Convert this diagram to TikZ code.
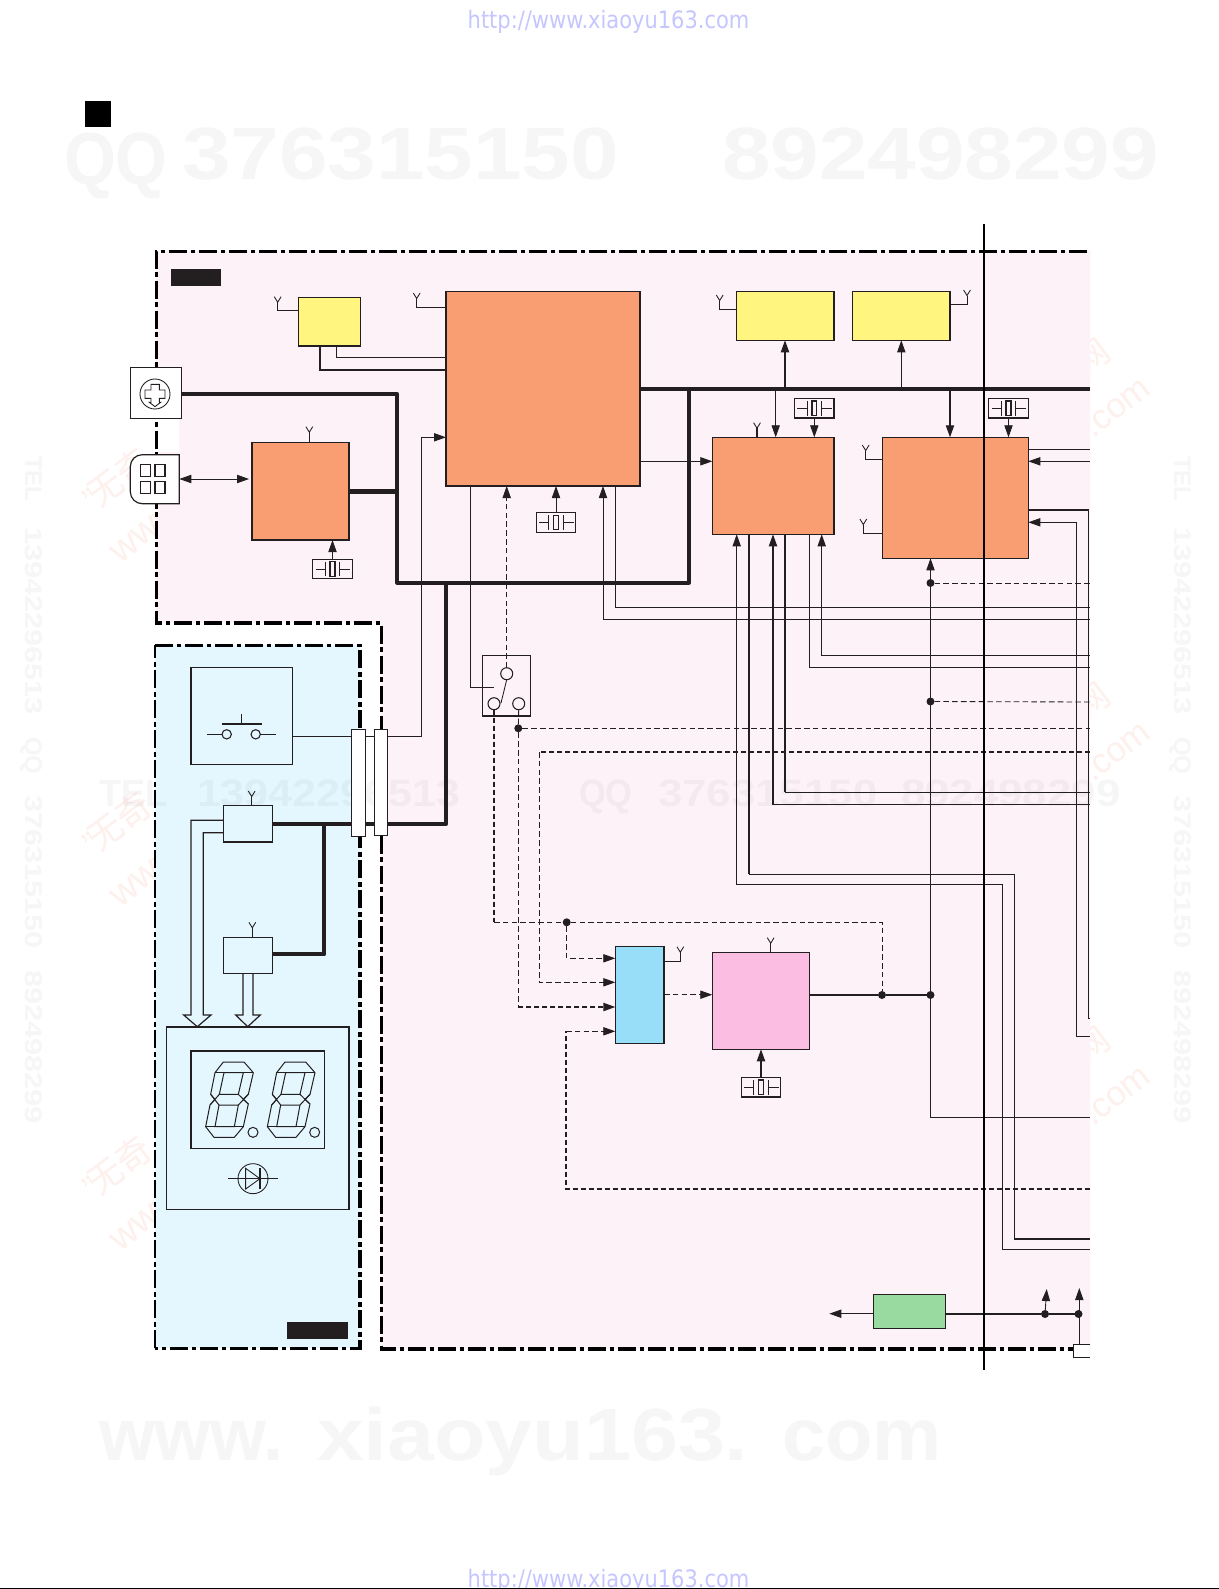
\documentclass[tikz,border=0pt]{standalone}
\usepackage{fontspec}
\usetikzlibrary{arrows.meta,calc}
\setmainfont{Liberation Sans}
\newfontfamily\dvf{DejaVu Sans}
\newfontfamily\cjkf{Noto Sans CJK SC}
\definecolor{ink}{HTML}{231F20}
\definecolor{pinkbg}{HTML}{FDF2F8}
\definecolor{bluebg}{HTML}{E4F6FE}
\definecolor{orangebox}{HTML}{F99D72}
\definecolor{yellowbox}{HTML}{FFF57F}
\definecolor{cyanbox}{HTML}{99DEF9}
\definecolor{rosebox}{HTML}{FBBDE1}
\definecolor{greenbox}{HTML}{99DAA0}
\definecolor{stamp}{HTML}{FDF0ED}
\definecolor{urlc}{HTML}{C6C6FF}
\tikzset{
  x=0.75pt,y=-0.75pt,
  >={Triangle[length=9pt,width=6.2pt]},
  boxn/.style={draw=ink,line width=0.95pt,inner sep=0pt,outer sep=0pt,rectangle},
  wire/.style={draw=ink,line width=0.65pt},
  wirem/.style={draw=ink,line width=1pt},
  bus/.style={draw=ink,line width=2.9pt,line join=round},
  dw/.style={draw=ink,line width=0.65pt,dash pattern=on 4.2pt off 2.4pt},
  dwt/.style={draw=ink,line width=1.2pt,dash pattern=on 3.6pt off 2.4pt},
  frameline/.style={draw=black,line width=2.35pt,dash pattern=on 13.5pt off 2.7pt on 3.6pt off 2.7pt},
  dotn/.style={circle,fill=ink,inner sep=0pt,outer sep=0pt,minimum size=6pt},
  ringn/.style={circle,draw=ink,fill=pinkbg,line width=0.8pt,inner sep=0pt,outer sep=0pt,minimum size=9pt},
  wmk/.style={anchor=base west,inner sep=0pt,outer sep=0pt,text=black!3.5},
  wmm/.style={anchor=base west,inner sep=0pt,outer sep=0pt,text=black,text opacity=0.035},
  bigf/.style={font=\fontsize{55.5}{60}\selectfont\bfseries},
  midf/.style={font=\fontsize{28.6}{32}\selectfont\bfseries},
  sidef/.style={font=\fontsize{18}{20}\selectfont\bfseries},
  stampt/.style={anchor=base west,inner sep=0pt,outer sep=0pt,text=stamp,rotate=37},
  urlt/.style={anchor=base,inner sep=0pt,outer sep=0pt,text=urlc,font=\fontsize{18}{20}\selectfont\dvf,xscale=0.874},
}
\newcommand{\bx}[6]{%
  \pgfmathsetmacro\bxw{((#4)-(#2))*0.75}\pgfmathsetmacro\bxh{((#5)-(#3))*0.75}%
  \node[boxn,#6,minimum width=\bxw pt,minimum height=\bxh pt] (#1) at ({((#2)+(#4))/2},{((#3)+(#5))/2}) {};}
% forked aerial: name, x, top y
\newcommand{\ya}[3]{%
  \coordinate (#1) at (#2,#3+5.5);
  \draw[wire] (#2-3.4,#3) -- (#1) -- (#2+3.4,#3);}
% crystal: name, centre
\newcommand{\xtal}[3]{%
  \bx{#1}{#2-19.8}{#3-9.8}{#2+19.8}{#3+9.8}{fill=pinkbg,line width=1pt}
  \begin{scope}[shift={(#2,#3)}]
    \draw[wire] (-17,0) -- (-7.3,0) (-7.3,-7.3) -- (-7.3,7.3) (7,-7.3) -- (7,7.3) (7,0) -- (17.5,0);
    \draw[wirem] (-2.4,-7.3) rectangle (2.4,7.3);
  \end{scope}}
% seven segment digit in zoom pixels
\newcommand{\sevenseg}{%
  \draw[wire,line width=0.75pt,line join=round] (250,186) -- (312,186) -- (340,218) -- (325,283) -- (310,298) -- (325,312) -- (310,380) -- (283,412) -- (222,412) -- (197,380) -- (210,315) -- (225,298) -- (212,283) -- (225,218) -- cycle;
  \draw[wire,line width=0.75pt] (252,218) -- (310,218) -- (295,283) -- (238,283) -- cycle;
  \draw[wire,line width=0.75pt] (237,315) -- (295,315) -- (283,380) -- (225,380) -- cycle;
  \draw[wire,line width=0.75pt] (225,218) -- (252,218) (340,218) -- (310,218) (197,380) -- (225,380) (310,380) -- (283,380);
  \draw[wire,line width=0.75pt] (212,283) -- (237,315) (238,283) -- (210,315) (295,283) -- (325,312) (325,283) -- (295,315);
  \draw[wire,line width=0.75pt] (339,397) circle[radius=15];
}
\begin{document}
\begin{tikzpicture}
\useasboundingbox (0,0) rectangle (1219,1589);
\fill[white] (0,0) rectangle (1219,1589);

% ---- faint stamps under the coloured areas
\foreach \dy in {0,344,688}{
  \node[stampt,font=\fontsize{26}{28}\selectfont] (stampq\dy) at (94,512+\dy) {"};
  \node[stampt,font=\fontsize{26}{28}\selectfont\cjkf] (stampa\dy) at (99.6,508+\dy) {无奇};
  \node[stampt,font=\fontsize{28}{30}\selectfont] (stampb\dy) at (120,564+\dy) {www};
  \node[stampt,font=\fontsize{26}{28}\selectfont\cjkf] (stampc\dy) at (1085,377+\dy) {网};
  \node[stampt,font=\fontsize{26}{28}\selectfont] (stampd\dy) at (1093,438+\dy) {.com};
}

% ---- region backgrounds
\fill[pinkbg] (156,251) -- (1090,251) -- (1090,1349) -- (381,1349) -- (381,623) -- (156,623) -- cycle;
\fill[white] (156,419) rectangle (179,452);
\fill[bluebg] (155,645.3) rectangle (360,1348.3);

% ---- faint numbers
\node[wmk,bigf,xscale=0.9] (wq) at (64,184) {QQ};
\node[wmk,bigf,xscale=1.18] (wa) at (182,179) {376315150};
\node[wmk,bigf,xscale=1.18] (wb) at (722,179) {892498299};
\node[wmk,bigf,xscale=0.97] (wc) at (99,1460) {www.};
\node[wmk,bigf,xscale=1.14] (wca) at (317,1460) {xiaoyu163.};
\node[wmk,bigf,xscale=1.05] (wcb) at (782,1460) {com};
\node[wmm,midf,xscale=0.95] (wd) at (99,806) {TEL};
\node[wmm,midf,xscale=1.13] (we) at (197,806) {13942296513};
\node[wmm,midf,xscale=0.9] (wf) at (579,806) {QQ};
\node[wmm,midf,xscale=1.15] (wg) at (658,806) {376315150};
\node[wmm,midf,xscale=1.15] (wh) at (901,806) {892498299};
\foreach \sx in {25,1174}{
  \node[wmk,sidef,rotate=-90,xscale=1.0] (sa\sx) at (\sx,456) {TEL};
  \node[wmk,sidef,rotate=-90,xscale=1.28] (sb\sx) at (\sx,527) {13942296513};
  \node[wmk,sidef,rotate=-90,xscale=1.0] (sc\sx) at (\sx,737) {QQ};
  \node[wmk,sidef,rotate=-90,xscale=1.28] (sd\sx) at (\sx,795) {376315150};
  \node[wmk,sidef,rotate=-90,xscale=1.28] (se\sx) at (\sx,970) {892498299};
}
\node[urlt] (urla) at (608.5,28) {http://www.xiaoyu163.com};
\node[urlt] (urlb) at (608.5,1587) {http://www.xiaoyu163.com};
\fill[black] (0,1587.5) rectangle (1219,1589);
\fill[black] (85,101) rectangle (111,127);

% ---- dash-dot frames
\draw[frameline] (1087,251.3) -- (156.3,251.3) -- (156.3,623) -- (381.3,623) -- (381.3,1349) -- (1087,1349);
\draw[frameline] (155,645.3) -- (360,645.3) -- (360,1348.3) -- (155,1348.3);
\draw[frameline,line width=1.5pt] (155,1348.3) -- (155,645.3);

% ---- black tags
\fill[ink] (171,269) rectangle (221,286);
\fill[ink] (287,1322) rectangle (348,1338.7);

% ---- main blocks
\bx{main}{446}{291.7}{640}{486}{fill=orangebox}
\bx{yellowa}{298.7}{297.3}{360.3}{346}{fill=yellowbox}
\bx{yellowb}{736.3}{291.7}{834}{340.3}{fill=yellowbox}
\bx{yellowc}{852.7}{291.7}{950}{340.3}{fill=yellowbox}
\bx{orangeb}{252}{442.7}{349}{540}{fill=orangebox}
\bx{orangec}{712.3}{437.3}{834}{534.3}{fill=orangebox}
\bx{oranged}{882.7}{437.3}{1028.3}{558.3}{fill=orangebox}
\bx{bluebox}{615.3}{946.3}{664}{1043.3}{fill=cyanbox}
\bx{rosen}{712.3}{952.3}{809.3}{1049.3}{fill=rosebox}
\bx{greenn}{873.7}{1294.3}{945.7}{1328.7}{fill=greenbox}
\bx{tabr}{1073.3}{1344}{1090}{1357.3}{fill=white,draw=none}
\draw[wire] (tabr.north east) -- (tabr.north west) -- (tabr.south west) -- (tabr.south east);
\bx{swbox}{482.3}{655.7}{530.7}{716}{line width=0.8pt}
\bx{keybox}{191}{667.7}{292.3}{764.7}{line width=0.8pt}
\bx{drva}{223.3}{805.7}{272.3}{842}{}
\bx{drvb}{223.3}{937.7}{272.3}{973.3}{line width=0.8pt}
\bx{dispbox}{166.7}{1027}{349}{1209.3}{line width=0.8pt}
\bx{dispin}{191}{1051}{324.7}{1148.3}{line width=0.8pt}

\xtal{xa}{332.5}{569}
\xtal{xb}{556}{522.5}
\xtal{xc}{814.3}{408.3}
\xtal{xd}{1008.5}{408.3}
\xtal{xe}{761}{1087.3}

% ---- free ends on the right edge
\foreach \nm/\yy in {449/449.3,461/461.3,583/583,607/607,619/619,655/655.3,667/667,702/702,728/728.3,752/752,792/792,805/804.7,1019/1018.6,1036/1036.4,1117/1117,1189/1189,1239/1239,1249/1249.3}{
  \coordinate (R\nm) at (1090,\yy);
}
% ---- junction dots
\node[dotn] (jc) at (930.5,583) {};
\node[dotn] (jd) at (930.5,701.5) {};
\node[dotn] (je) at (930.5,995) {};
\node[dotn] (jf) at (882,995) {};
\node[dotn] (jg) at (566.7,922.3) {};
\node[dotn] (jh) at (518.3,728.3) {};
\node[dotn] (ji) at (1045,1314) {};
\node[dotn] (jj) at (1078.5,1314) {};

% ---- aerials
\ya{aa}{277.7}{296.7}
\draw[wirem] (aa) |- (yellowa.west |- 0,310.7);
\ya{ab}{416.7}{293}
\draw[wire] (ab) |- (main.west |- 0,307.3);
\ya{ac}{719.7}{295}
\draw[wire] (ac) |- (yellowb.west |- 0,309.3);
\ya{ad}{967}{290}
\draw[wire] (ad) |- (yellowc.east |- 0,304.3);
\ya{ae}{309.3}{426.7}
\draw[wire] (ae) -- (ae |- orangeb.north);
\ya{af}{757}{422.7}
\draw[wirem] (af) -- (af |- orangec.north);
\ya{ag}{865.7}{445}
\draw[wire] (ag) |- (oranged.west |- 0,459.3);
\ya{ah}{863.3}{519}
\draw[wirem] (ah) |- (oranged.west |- 0,533.7);
\ya{ai}{680.3}{946.7}
\draw[wire] (ai) |- (bluebox.east |- 0,961.3);
\ya{aj}{770.7}{937.7}
\draw[wire] (aj) -- (aj |- rosen.north);
\ya{ak}{251.7}{791}
\draw[wirem] (ak) -- (ak |- drva.north);
\ya{al}{252.3}{922.3}
\draw[wire] (al) -- (al |- drvb.north);

% ---- connector bars
\bx{bara}{351.7}{729.3}{365.3}{836.3}{fill=white,line width=0.8pt}
\bx{barb}{374.3}{729.3}{387.7}{835.3}{fill=white,line width=0.8pt}

% ---- thick busses
\node[boxn,fill=white,minimum width=38.25pt,minimum height=38.25pt,line width=0.9pt] (iconp) at (155.8,393.2) {};
\node[inner sep=0pt,outer sep=0pt,minimum width=36.75pt,minimum height=36.75pt] (iconk) at (154.8,479.2) {};
\draw[ink,fill=white,line width=0.9pt] (179.3,454.7) [rounded corners=9pt] -- (130.3,454.7) -- (130.3,503.7) [sharp corners] -- (179.3,503.7) -- cycle;
\coordinate (busa) at (397.3,394.3);
\coordinate (busb) at (397.3,582.7);
\coordinate (busc) at (689,582.7);
\coordinate (busd) at (689,389);
\coordinate (buse) at (446,582.7);
\coordinate (busf) at (324.3,824.3);
\draw[bus] (iconp.east |- busa) -- (busa) -- (busb) -- (busc) -- (busd);
\draw[bus] (main.east |- busd) -- (R449 |- busd);
\draw[bus,line width=3.4pt] (orangeb.east |- 0,491.3) -- (busa |- 0,491.3);
\draw[bus] (barb.east |- busf) -- (buse |- busf) -- (buse);
\draw[bus] (bara.east |- busf) -- (barb.west |- busf);
\draw[bus] (drva.east |- busf) -- (bara.west |- busf);
\draw[bus] (busf) |- (drvb.east |- 0,954.3);

% ---- icon details
\begin{scope}[shift={(60,220)},scale=1/3]
  \draw[wire] (285,522) circle[radius=45];
  \draw[wire] (273,493) -- (298,493) -- (298,510) -- (315,510) -- (315,535) -- (298,535) -- (298,547) -- (302,547) -- (285,560) -- (268,547) -- (273,547) -- (273,535) -- (255,535) -- (255,510) -- (273,510) -- cycle;
  \draw[wirem] (241,734) rectangle (271,770) (285,734) rectangle (315,770) (241,784) rectangle (271,821) (285,784) rectangle (315,821);
\end{scope}
\draw[wire,<->,shorten >=2.2pt] (iconk.east |- 0,479) -- (orangeb.west |- 0,479);

% ---- top-left wires
\draw[wire] (336.7,0 |- yellowa.south) |- (main.west |- 0,357.7);
\draw[wirem] (320,0 |- yellowa.south) |- (main.west |- 0,370);
\draw[wire,->] (xa.north) -- (xa.north |- orangeb.south);

% ---- key and switch
\draw[ink,line width=1.6pt] (221.7,724.3) -- (261.7,724.3);
\draw[wire] (241.3,714) -- (241.3,724.3);
\node[ringn,fill=bluebg,minimum size=7pt] (ka) at (226.7,734.3) {};
\node[ringn,fill=bluebg,minimum size=7pt] (kb) at (255.7,734.3) {};
\draw[wire] (207.3,734.3) -- (ka) (kb) -- (275.7,734.3);
\draw[wire] (keybox.east |- 0,736.3) -- (bara.west |- 0,736.3);
\draw[wire] (bara.east |- 0,736.3) -- (barb.west |- 0,736.3);
\coordinate (kup) at (421.5,437.3);
\draw[wire,->] (barb.east |- 0,736.3) -| (kup) -- (kup -| main.west);

\node[ringn] (swt) at (506.7,673.7) {};
\node[ringn] (swl) at (494,703.7) {};
\node[ringn] (swr) at (518.7,703.7) {};
\draw[wire] (swt.south) -- (501,703);
\draw[wire] (470,0 |- main.south) |- (494,687);
\draw[dw,->] (swt.north) -- (swt |- main.south);
\draw[wire,->] (xb.north) -- (xb.north |- main.south);
\coordinate (lpa) at (603,619);
\coordinate (lpb) at (615,607);
\draw[wire,->] (R619) -- (lpa) -- (lpa |- main.south);
\draw[wire] (R607) -- (lpb) -- (lpb |- main.south);
\draw[wire,->] (main.east |- 0,461.3) -- (orangec.west |- 0,461.3);

% ---- bus to upper blocks
\draw[wirem,->] (785,0 |- busd) -- (785,0 |- yellowb.south);
\draw[wire,->] (901.3,0 |- busd) -- (901.3,0 |- yellowc.south);
\draw[wire,->] (775.7,0 |- busd) -- (775.7,0 |- orangec.north);
\draw[wirem,->] (950,0 |- busd) -- (950,0 |- oranged.north);
\draw[wire,->] (xc.south) -- (xc.south |- orangec.north);
\draw[wire,->] (xd.south) -- (xd.south |- oranged.north);

% ---- block at the right
\draw[wire] (oranged.east |- R449) -- (R449);
\draw[wire,->] (R461) -- (oranged.east |- R461);
\draw[wirem] (oranged.east |- 0,510) -- (1088.3,510) |- (R1019);
\draw[wire,->] (R1036) -- (1076.7,1036.4) -- (1076.7,522.3) -- (oranged.east |- 0,522.3);

% ---- lines under the second block
\draw[wire,->] (R1249) -- (1002.3,1249.3) -- (1002.3,884) -- (736.7,884) -- (736.7,0 |- orangec.south);
\draw[wirem] (749,0 |- orangec.south) -- (749,874);
\draw[wire] (749,874) -- (1014.3,874) -- (1014.3,1239);
\draw[bus,line width=1.5pt] (1014.3,1239) -- (R1239);
\draw[wirem] (773,804.7) -- (R805);
\draw[wirem,->] (773,804.7) -- (773,0 |- orangec.south);
\draw[wire] (R792) -- (785,792);
\draw[wirem] (785,792) -- (785,0 |- orangec.south);
\draw[wire] (R667) -- (809.3,667) -- (809.3,0 |- orangec.south);
\draw[wire,->] (R655) -- (821.7,655.3) -- (821.7,0 |- orangec.south);

% ---- vertical with dots
\draw[wire] (R1117) -| (je);
\draw[wire,->] (je) -- (je |- oranged.south);
\draw[dw] (jc) -- (R583);
\draw[dw] (jd) -- (R702);

% ---- dashed network
\draw[dwt] (swl.south) -- (swl |- jg);
\draw[dw] (swl |- jg) -- (jg);
\draw[dw] (jg) -| (jf);
\draw[dw,->] (jg) |- (bluebox.west |- 0,958.3);
\draw[dw] (swr.south) -- (jh);
\draw[dw] (jh) -- (R728);
\draw[dw] (jh) -- (jh |- 0,1007);
\draw[dwt,->] (jh |- 0,1007) -- (bluebox.west |- 0,1007);
\draw[dwt] (R752) -- (539,752);
\draw[dw,->] (539,752) |- (bluebox.west |- 0,982.3);
\draw[dw,->] (566,1031.3) -- (bluebox.west |- 0,1031.3);
\draw[dwt] (R1189) -| (566,1031.3);
\draw[dw,->] (bluebox.east |- 0,994.7) -- (rosen.west |- 0,994.7);
\draw[bus,line width=1.5pt] (rosen.east |- je) -- (jf) -- (je);
\draw[bus,line width=2pt] (xe.north) -- (761,1060);
\draw[wirem,->] (761,1060) -- (761,0 |- rosen.south);

% ---- blue panel arrows
\draw[wirem,line width=0.9pt,line join=miter] (drva.west |- 0,820.3) -- (191,820.3) -- (191,1015) -- (183.7,1015) -- (197.3,1026.7) -- (211,1015) -- (203.3,1015) -- (203.3,832.7) -- (drva.west |- 0,832.7);
\draw[wirem,line width=0.9pt,line join=miter] (243,0 |- drvb.south) -- (243,1015) -- (235.7,1015) -- (247.7,1026.7) -- (260.3,1015) -- (253,1015) -- (253,0 |- drvb.south);

% ---- display
\begin{scope}[shift={(140,1000)},scale=1/3]
  \sevenseg
  \begin{scope}[shift={(185,0)}]\sevenseg\end{scope}
  \draw[wire] (339,536) circle[radius=45];
  \draw[wire] (265,536) -- (413,536);
  \draw[wire] (317,505) -- (317,567) -- (360,536) -- cycle;
  \draw[ink,line width=1.3pt] (360,505) -- (360,567);
\end{scope}

% ---- lower right
\draw[wire,->] (greenn.west |- 0,1313.7) -- (829.3,1313.7);
\draw[wirem] (greenn.east |- ji) -- (ji) -- (jj);
\coordinate (tipa) at (1046.7,1289);
\coordinate (tipb) at (1079.3,1288);
\draw[wire,->] (ji) -- (tipa);
\draw[wire,->] (tabr.north -| tipb) -- (tipb);

% ---- page divider
\coordinate (vt) at (984,224);
\coordinate (vb) at (984,1370);
\draw[black,line width=1.5pt] (vt) -- (vb);
\end{tikzpicture}
\end{document}
